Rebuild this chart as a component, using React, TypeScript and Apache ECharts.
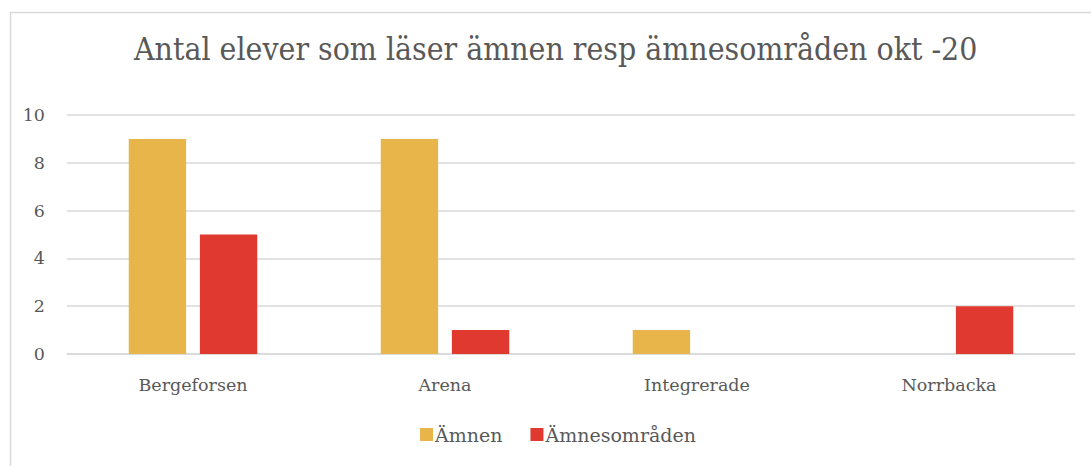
import React, { useEffect, useRef } from "react";
import * as echarts from "echarts";

const categories = ["Bergeforsen", "Arena", "Integrerade", "Norrbacka"];
const amnen = [9, 9, 1, 0];
const amnesomraden = [5, 1, 0, 2];
const seriesNames = ["Ämnen", "Ämnesområden"];
const titleText = "Antal elever som läser ämnen resp ämnesområden okt -20";

const FONT = "DejaVu Serif";
const TXT = "#595959";

export default function App() {
  const ref = useRef<HTMLDivElement>(null);
  useEffect(() => {
    if (!ref.current) return;
    const chart = echarts.init(ref.current, null, { renderer: "svg" });
    chart.setOption({
      animation: false,
      backgroundColor: "#ffffff",
      textStyle: { fontFamily: FONT },
      title: {
        text: titleText,
        left: 129,
        top: 28,
        textStyle: { fontFamily: "DejaVu Serif Condensed", fontSize: 31.7, fontWeight: "normal", color: TXT },
      },
      graphic: [
        {
          type: "rect",
          shape: { x: 10.5, y: 12.5, width: 1200, height: 600 },
          style: { fill: "none", stroke: "#d9d9d9", lineWidth: 1.5 },
          silent: true,
        },
      ],
      legend: {
        bottom: 17,
        left: 415,
        itemWidth: 13,
        itemHeight: 13,
        itemGap: 28,
        icon: "rect",
        textStyle: { fontFamily: FONT, fontSize: 19, color: TXT, padding: [0, 0, 0, -3] },
        data: seriesNames,
      },
      grid: { left: 67, right: 16, top: 115, bottom: 112 },
      xAxis: {
        type: "category",
        data: categories,
        axisLine: { lineStyle: { color: "#d9d9d9", width: 1.5 } },
        axisTick: { show: false },
        axisLabel: { fontFamily: FONT, fontSize: 17.5, color: TXT, margin: 22 },
      },
      yAxis: {
        type: "value",
        min: 0,
        max: 10,
        interval: 2,
        axisLine: { show: false },
        axisTick: { show: false },
        axisLabel: { fontFamily: FONT, fontSize: 17.5, color: TXT, margin: 22 },
        splitLine: { lineStyle: { color: "#d9d9d9", width: 1.5 } },
      },
      series: [
        {
          name: seriesNames[0],
          type: "bar",
          data: amnen,
          itemStyle: { color: "#E8B54B" },
          barGap: "24%",
          barCategoryGap: "49%",
        },
        {
          name: seriesNames[1],
          type: "bar",
          data: amnesomraden,
          itemStyle: { color: "#E03A30" },
          barGap: "24%",
          barCategoryGap: "49%",
        },
      ],
    });
    return () => chart.dispose();
  }, []);
  return (
    <div
      ref={ref}
      style={{ position: "absolute", left: 0, top: 0, width: 1091, height: 466 }}
    />
  );
}
